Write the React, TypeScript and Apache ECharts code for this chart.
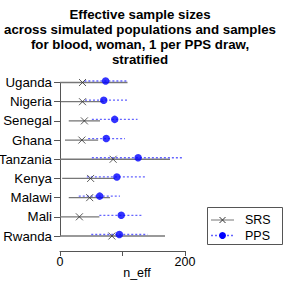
import React, { useEffect, useRef } from "react";
import * as echarts from "echarts";

const countries = ["Uganda", "Nigeria", "Senegal", "Ghana", "Tanzania", "Kenya", "Malawi", "Mali", "Rwanda"];
const srsPoint = [36, 36, 39, 35, 85, 49, 47.5, 31, 83];
const srsLow = [0, 1.5, 14, 8, 0, 3.5, 14, 0, 0];
const srsHigh = [108, 70, 64, 61, 176, 88, 80, 63, 168];
const ppsPoint = [73, 70, 87.5, 74, 125, 91, 63.5, 98, 95];
const ppsLow = [39, 40, 51, 45, 51, 43, 30, 63, 50];
const ppsHigh = [107, 108, 124, 104, 197, 139, 96, 132, 140];
const xTicks = [0, 100, 200];
const xTickLabels = ["0", "", "200"];
const titleText = "Effective sample sizes\nacross simulated populations and samples\nfor blood, woman, 1 per PPS draw,\nstratified";

const FONT = "Liberation Sans, Arial, Helvetica, sans-serif";
const CROSS = "path://M0,0L10,10M10,0L0,10";
const SRS_COLOR = "#777777";
const PPS_COLOR = "#6464ff";

function rangeSeries(name: string, lo: number[], hi: number[], color: string, dash: number[] | null, dy: number) {
  return {
    type: "custom",
    name,
    data: lo.map((l, i) => [l, hi[i], i]),
    encode: { x: [0, 1], y: 2 },
    z: 1,
    renderItem: (params: any, api: any) => {
      const p1 = api.coord([api.value(0), api.value(2)]);
      const p2 = api.coord([api.value(1), api.value(2)]);
      return {
        type: "line",
        shape: { x1: p1[0], y1: p1[1] + dy, x2: p2[0], y2: p2[1] + dy },
        style: { stroke: color, lineWidth: 1.3, lineDash: dash || undefined, fill: null },
      };
    },
  };
}

export default function App() {
  const ref = useRef<HTMLDivElement>(null);
  useEffect(() => {
    if (!ref.current) return;
    const chart = echarts.init(ref.current, null, { renderer: "svg" });
    chart.setOption({
      animation: false,
      backgroundColor: "#ffffff",
      textStyle: { fontFamily: FONT },
      grid: { left: 60, right: 100, top: 82.5, bottom: 49, containLabel: false, outerBoundsMode: "none" },
      xAxis: {
        type: "value",
        min: 0,
        max: 200,
        interval: 100,
        offset: 15,
        axisLine: { show: true, lineStyle: { color: "#555", width: 1 } },
        axisTick: { show: true, length: 5, inside: false, lineStyle: { color: "#555" } },
        axisLabel: {
          color: "#000",
          fontSize: 12.5,
          fontFamily: FONT,
          margin: 4,
          formatter: (v: number) => xTickLabels[xTicks.indexOf(v)] ?? "",
        },
        splitLine: { show: false },
      },
      yAxis: {
        type: "category",
        data: countries,
        inverse: true,
        boundaryGap: false,
        offset: 1,
        axisLine: { show: true, lineStyle: { color: "#555", width: 1 } },
        axisTick: { show: true, length: 6, inside: false, alignWithLabel: true, lineStyle: { color: "#555" } },
        axisLabel: { color: "#000", fontSize: 13.3, fontFamily: FONT, margin: 7 },
        splitLine: { show: false },
      },
      series: [
        rangeSeries("SRS range", srsLow, srsHigh, SRS_COLOR, null, 0),
        rangeSeries("PPS range", ppsLow, ppsHigh, PPS_COLOR, [2, 2], -1.5),
        {
          type: "scatter",
          name: "SRS",
          data: srsPoint.map((v, i) => [v, i]),
          symbol: CROSS,
          symbolSize: 7,
          itemStyle: { color: "none", borderColor: "#333", borderWidth: 1 },
          z: 3,
        },
        {
          type: "scatter",
          name: "PPS",
          data: ppsPoint.map((v, i) => [v, i]),
          symbol: "circle",
          symbolSize: 7.5,
          symbolOffset: [0, -1.5],
          itemStyle: { color: "#0000ff" },
          z: 4,
        },
      ],
      graphic: [
        {
          type: "text",
          x: 140,
          y: 7.5,
          style: { text: titleText, textAlign: "center", font: `bold 13.3px ${FONT}`, lineHeight: 14.8, fill: "#000" },
        },
        {
          type: "text",
          x: 137,
          y: 273,
          style: { text: "n_eff", textAlign: "center", textVerticalAlign: "middle", font: `12.5px ${FONT}`, fill: "#000" },
        },
        {
          type: "rect",
          shape: { x: 207.5, y: 207.5, width: 75, height: 37 },
          style: { fill: "none", stroke: "#555", lineWidth: 1 },
        },
        {
          type: "line",
          shape: { x1: 211, y1: 220, x2: 234, y2: 220 },
          style: { stroke: SRS_COLOR, lineWidth: 1 },
        },
        {
          type: "polyline",
          shape: { points: [[219.5, 217], [225.5, 223]] },
          style: { stroke: "#333", lineWidth: 1, fill: "none" },
        },
        {
          type: "polyline",
          shape: { points: [[225.5, 217], [219.5, 223]] },
          style: { stroke: "#333", lineWidth: 1, fill: "none" },
        },
        {
          type: "text",
          x: 245,
          y: 220,
          style: { text: "SRS", textVerticalAlign: "middle", font: `12.5px ${FONT}`, fill: "#000" },
        },
        {
          type: "line",
          shape: { x1: 211, y1: 235.5, x2: 234, y2: 235.5 },
          style: { stroke: PPS_COLOR, lineWidth: 1.3, lineDash: [2, 2] },
        },
        {
          type: "circle",
          shape: { cx: 222.5, cy: 235.5, r: 3.5 },
          style: { fill: "#0000ff" },
        },
        {
          type: "text",
          x: 245,
          y: 235.5,
          style: { text: "PPS", textVerticalAlign: "middle", font: `12.5px ${FONT}`, fill: "#000" },
        },
      ],
    });
    return () => chart.dispose();
  }, []);
  return (
    <div style={{ position: "absolute", left: 0, top: 0, width: 285, height: 285, background: "#fff" }}>
      <div ref={ref} style={{ width: 285, height: 285 }} />
    </div>
  );
}
